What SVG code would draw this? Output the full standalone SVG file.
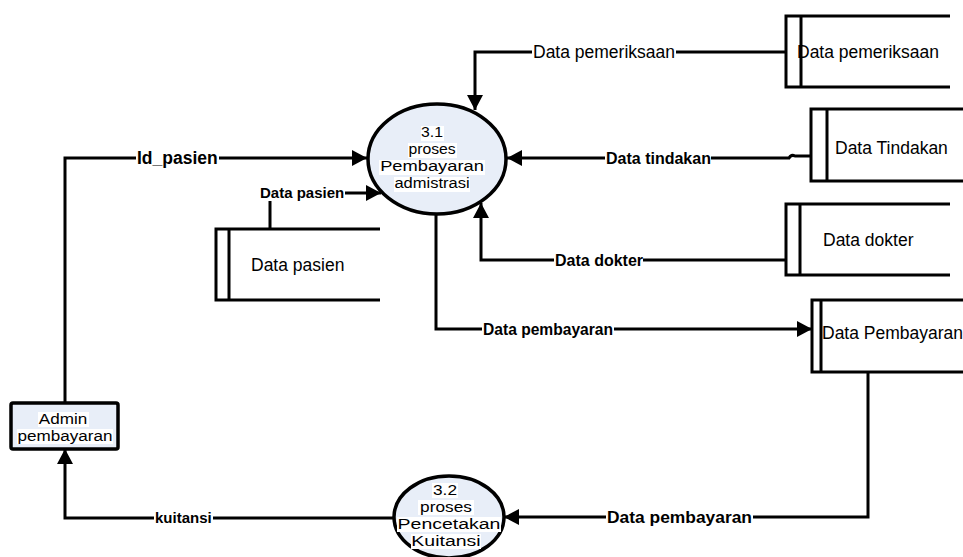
<svg xmlns="http://www.w3.org/2000/svg" width="963" height="557" viewBox="0 0 963 557">
  <defs>
    <marker id="arrow" markerUnits="userSpaceOnUse" markerWidth="16" markerHeight="16" refX="15" refY="8" orient="auto">
      <path d="M0,0 L15,8 L0,16 z" fill="#000"/>
    </marker>
    <style>
      .flow { fill: none; stroke: #000; stroke-width: 3; }
      .arr { marker-end: url(#arrow); }
      .proc { fill: #e8eef8; stroke: #000; stroke-width: 3.5; }
      .store { fill: none; stroke: #000; stroke-width: 3; }
      .ent { fill: #e8eef8; stroke: #000; stroke-width: 3.5; }
      .t { font-family: "Liberation Sans", Arial, sans-serif; fill: #000; }
      .mid { text-anchor: middle; }
      .st { font-family: "Liberation Sans", Arial, sans-serif; font-size: 17.5px; fill: #000; }
      .lbl { font-family: "Liberation Sans", Arial, sans-serif; font-weight: bold; fill: #000; }
      .bg { fill: #fff; }
    </style>
  </defs>
  <rect width="963" height="557" fill="#fff"/>

  <!-- data flows -->
  <g id="connectors">
    <path class="flow arr" d="M786 52 H475 V110"/>
    <path class="flow arr" d="M811 156 H795 Q791 154 789 158 H507"/>
    <path class="flow arr" d="M786 260 H481 V203"/>
    <path class="flow arr" d="M65 403 V158 H367"/>
    <path class="flow arr" d="M270 229 V193 H381"/>
    <path class="flow arr" d="M436 215 V329 H812"/>
    <path class="flow arr" d="M868 372 V517 H504"/>
    <path class="flow arr" d="M394 518 H65 V449"/>

    <!-- label backgrounds interrupt the lines -->
    <rect class="bg" x="532" y="44" width="144" height="18"/>
    <rect class="bg" x="605" y="151" width="106" height="16"/>
    <rect class="bg" x="554" y="253" width="89" height="16"/>
    <rect class="bg" x="136" y="150" width="83" height="18"/>
    <rect class="bg" x="259" y="186" width="86" height="15"/>
    <rect class="bg" x="482" y="322" width="132" height="16"/>
    <rect class="bg" x="606" y="509" width="147" height="18"/>
    <rect class="bg" x="154" y="511" width="59" height="15"/>

    <text class="lbl" x="533" y="58" style="font-size:17.5px;font-weight:normal">Data pemeriksaan</text>
    <text class="lbl" x="606" y="164" style="font-size:16px">Data tindakan</text>
    <text class="lbl" x="555" y="266" style="font-size:16px">Data dokter</text>
    <text class="lbl" x="137" y="164" style="font-size:17.5px">Id_pasien</text>
    <text class="lbl" x="260" y="198" style="font-size:15px">Data pasien</text>
    <text class="lbl" x="483" y="335" style="font-size:15.6px">Data pembayaran</text>
    <text class="lbl" x="607" y="523" style="font-size:17.4px">Data pembayaran</text>
    <text class="lbl" x="155" y="523" style="font-size:15px">kuitansi</text>
  </g>

  <!-- process 3.1 -->
  <g id="p31">
    <ellipse class="proc" cx="437" cy="159" rx="69" ry="55"/>
    <rect class="bg" x="421" y="126" width="23" height="15"/>
    <rect class="bg" x="408" y="143" width="49" height="15"/>
    <rect class="bg" x="379" y="160" width="106" height="15"/>
    <rect class="bg" x="394" y="177" width="76" height="15"/>
    <g class="t mid" font-size="15">
      <text transform="translate(432 137) scale(1.05 1)">3.1</text>
      <text transform="translate(432 154) scale(1.05 1)">proses</text>
      <text transform="translate(432 171) scale(1.22 1)">Pembayaran</text>
      <text transform="translate(432 188) scale(1.1 1)">admistrasi</text>
    </g>
  </g>

  <!-- process 3.2 -->
  <g id="p32">
    <ellipse class="proc" cx="449" cy="517" rx="55" ry="41"/>
    <rect class="bg" x="432" y="483" width="26" height="15"/>
    <rect class="bg" x="418" y="500" width="56" height="15"/>
    <rect class="bg" x="397" y="517" width="104" height="15"/>
    <rect class="bg" x="411" y="534" width="70" height="15"/>
    <g class="t mid" font-size="15">
      <text transform="translate(445 495) scale(1.15 1)">3.2</text>
      <text transform="translate(446 512) scale(1.15 1)">proses</text>
      <text transform="translate(449 529) scale(1.3 1)">Pencetakan</text>
      <text transform="translate(446 546) scale(1.3 1)">Kuitansi</text>
    </g>
  </g>

  <!-- external entity -->
  <g id="admin">
    <rect class="ent" x="11" y="403" width="107" height="46" rx="2"/>
    <rect class="bg" x="38" y="412" width="51" height="15"/>
    <rect class="bg" x="17" y="429" width="96" height="15"/>
    <g class="t mid" font-size="15">
      <text transform="translate(63 424) scale(1.14 1)">Admin</text>
      <text transform="translate(65 441) scale(1.14 1)">pembayaran</text>
    </g>
  </g>

  <!-- data stores -->
  <g id="store-pemeriksaan">
    <path class="store" d="M950 16 H786 V87 H950 M801 16 V87"/>
    <text class="st" x="797" y="58">Data pemeriksaan</text>
  </g>
  <g id="store-tindakan">
    <path class="store" d="M963 109 H811 V181 H963 M827 109 V181"/>
    <text class="st" x="835" y="154">Data Tindakan</text>
  </g>
  <g id="store-dokter">
    <path class="store" d="M950 204 H786 V275 H950 M800 204 V275"/>
    <text class="st" x="823" y="246">Data dokter</text>
  </g>
  <g id="store-pembayaran">
    <path class="store" d="M963 300 H812 V372 H963 M821 300 V372"/>
    <text class="st" x="822" y="339">Data Pembayaran</text>
  </g>
  <g id="store-pasien">
    <path class="store" d="M380 229 H216 V300 H380 M229 229 V300"/>
    <text class="st" x="251" y="271">Data pasien</text>
  </g>
</svg>
